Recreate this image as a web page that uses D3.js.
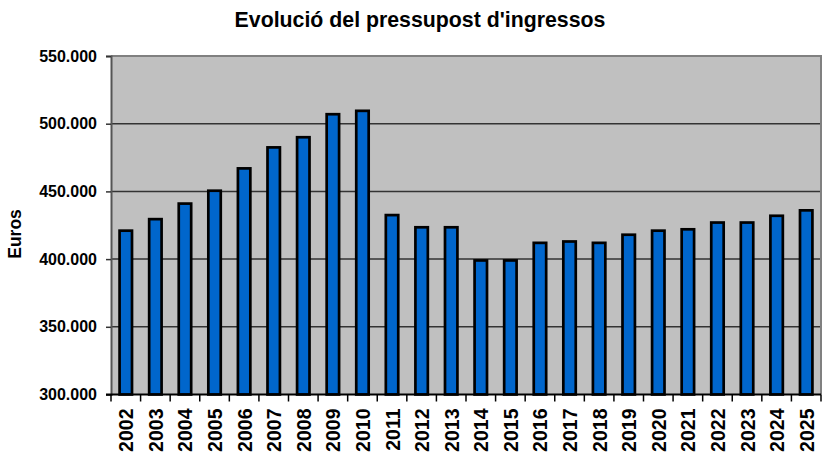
<!DOCTYPE html>
<html>
<head>
<meta charset="utf-8">
<script src="https://cdn.jsdelivr.net/npm/d3@7"></script>
<style>
  html, body { margin: 0; padding: 0; background: #fff; }
  svg { display: block; font-family: "Liberation Sans", Arial, sans-serif; }
</style>
</head>
<body>
<svg id="chart" width="823" height="456"></svg>
<script>
const title = "Evolució del pressupost d'ingressos";
const yAxisTitle = "Euros";
const years = ["2002","2003","2004","2005","2006","2007","2008","2009","2010","2011","2012","2013",
               "2014","2015","2016","2017","2018","2019","2020","2021","2022","2023","2024","2025"];
const values = [421000, 429500, 441000, 450500, 467000, 482500, 490000, 507000, 509500, 432500, 423500, 423500,
                399000, 399000, 412000, 413000, 412000, 418000, 421000, 422000, 427000, 427000, 432000, 436000];
const yTicks = [300000, 350000, 400000, 450000, 500000, 550000];

const svg = d3.select("#chart");
const m = { left: 111, top: 56, right: 821, bottom: 394.5 };

const x = d3.scaleBand().domain(years).range([m.left, m.right]).paddingInner(0.58).paddingOuter(0.29);
const xb = d3.scaleBand().domain(years).range([m.left, m.right]);
const y = d3.scaleLinear().domain([300000, 550000]).range([m.bottom, m.top]);

// plot background
svg.append("rect").attr("x", m.left).attr("y", m.top)
  .attr("width", m.right - m.left).attr("height", m.bottom - m.top)
  .attr("fill", "#c0c0c0");

// gridlines
svg.append("g").selectAll("line").data(yTicks.filter(t => t > 300000 && t < 550000)).join("line")
  .attr("x1", m.left).attr("x2", m.right)
  .attr("y1", d => y(d)).attr("y2", d => y(d))
  .attr("stroke", "#333").attr("stroke-width", 1.5);

// top and right border
svg.append("line").attr("x1", m.left).attr("x2", m.right + 1).attr("y1", m.top).attr("y2", m.top)
  .attr("stroke", "#808080").attr("stroke-width", 2);
svg.append("line").attr("x1", m.right).attr("x2", m.right).attr("y1", m.top).attr("y2", m.bottom)
  .attr("stroke", "#808080").attr("stroke-width", 2);

// bars
svg.append("g").selectAll("rect").data(years).join("rect")
  .attr("x", (d) => x(d))
  .attr("width", x.bandwidth())
  .attr("y", (d, i) => y(values[i]))
  .attr("height", (d, i) => m.bottom - y(values[i]))
  .attr("fill", "#0066cc")
  .attr("stroke", "#000").attr("stroke-width", 2.7);

// y axis
const yAxis = d3.axisLeft(y).tickValues(yTicks).tickSize(5).tickPadding(9)
  .tickFormat(d => d3.format(",")(d).replace(/,/g, "."));
const gy = svg.append("g").attr("transform", `translate(${m.left},0)`).call(yAxis);
gy.select(".domain").attr("stroke", "#555").attr("stroke-width", 2);
gy.selectAll(".tick line").attr("stroke", "#333").attr("stroke-width", 1.5);
gy.selectAll(".tick text").attr("font-size", 16).attr("font-weight", "bold").attr("fill", "#000")
  .attr("font-family", "'Liberation Sans', Arial, sans-serif");

// x axis: ticks at band boundaries
const boundaries = years.map(d => xb(d)).concat([m.right]);
svg.append("g").selectAll("line").data(boundaries).join("line")
  .attr("x1", d => d).attr("x2", d => d).attr("y1", m.bottom).attr("y2", m.bottom + 7)
  .attr("stroke", "#000").attr("stroke-width", 1.5);
svg.append("line").attr("x1", m.left - 5).attr("x2", m.right).attr("y1", m.bottom).attr("y2", m.bottom)
  .attr("stroke", "#000").attr("stroke-width", 2);

// x labels
svg.append("g").selectAll("text").data(years).join("text")
  .attr("transform", d => `translate(${xb(d) + xb.bandwidth() / 2 + 7.5},${m.bottom + 14}) rotate(-90)`)
  .attr("text-anchor", "end")
  .attr("font-size", 19.5).attr("font-weight", "bold").attr("fill", "#000")
  .text(d => d);

// y axis title
svg.append("text")
  .attr("transform", `translate(21,234) rotate(-90)`)
  .attr("text-anchor", "middle")
  .attr("font-size", 17.5).attr("font-weight", "bold").attr("fill", "#000")
  .text(yAxisTitle);

// title
svg.append("text")
  .attr("x", 420).attr("y", 27)
  .attr("text-anchor", "middle")
  .attr("font-size", 21.3).attr("font-weight", "bold").attr("fill", "#000")
  .text(title);
</script>
</body>
</html>
